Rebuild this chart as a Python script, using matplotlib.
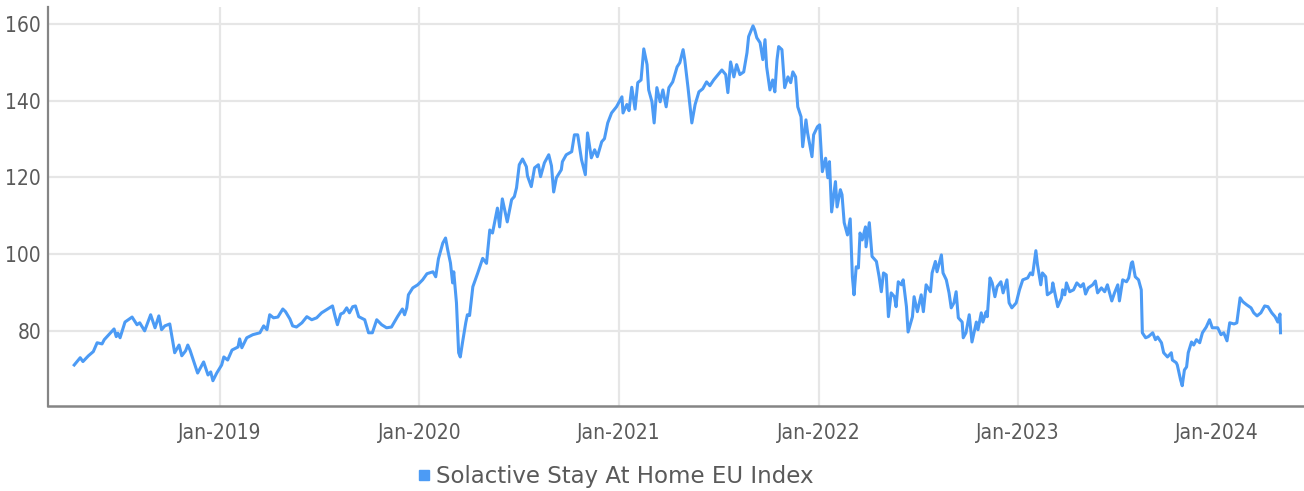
import matplotlib
matplotlib.use("Agg")
import matplotlib.pyplot as plt
import matplotlib.dates as mdates
import pandas as pd

# Solactive Stay At Home EU Index
dates = [
    "2018-04-09", "2018-04-20", "2018-04-25", "2018-05-05", "2018-05-14", "2018-05-21", "2018-05-30",
    "2018-06-03", "2018-06-14", "2018-06-21", "2018-06-25", "2018-06-28", "2018-07-02", "2018-07-11",
    "2018-07-24", "2018-08-02", "2018-08-07", "2018-08-16", "2018-08-27", "2018-09-04", "2018-09-11",
    "2018-09-16", "2018-09-22", "2018-10-01", "2018-10-10", "2018-10-18", "2018-10-23", "2018-10-30",
    "2018-11-03", "2018-11-07", "2018-11-21", "2018-12-02", "2018-12-10", "2018-12-15", "2018-12-19",
    "2018-12-26",
    "2019-01-04", "2019-01-08", "2019-01-15", "2019-01-23", "2019-02-03", "2019-02-06", "2019-02-10",
    "2019-02-19", "2019-03-02", "2019-03-15", "2019-03-22", "2019-03-28", "2019-04-02", "2019-04-09",
    "2019-04-17", "2019-04-26", "2019-05-01", "2019-05-09", "2019-05-14", "2019-05-21", "2019-05-31",
    "2019-06-09", "2019-06-18", "2019-06-27", "2019-07-06", "2019-07-15", "2019-07-26", "2019-07-30",
    "2019-08-04", "2019-08-10", "2019-08-15", "2019-08-21", "2019-08-26", "2019-09-01", "2019-09-06",
    "2019-09-12", "2019-09-23", "2019-09-30", "2019-10-07", "2019-10-15", "2019-10-24", "2019-11-02",
    "2019-11-11", "2019-11-22", "2019-12-01", "2019-12-05", "2019-12-09", "2019-12-12", "2019-12-20",
    "2019-12-29",
    "2020-01-07", "2020-01-15", "2020-01-26", "2020-01-31", "2020-02-05", "2020-02-13", "2020-02-18",
    "2020-02-22", "2020-02-27", "2020-03-02", "2020-03-04", "2020-03-09", "2020-03-13", "2020-03-16",
    "2020-03-20", "2020-03-26", "2020-03-29", "2020-04-02", "2020-04-08", "2020-04-17", "2020-04-26",
    "2020-05-03", "2020-05-09", "2020-05-14", "2020-05-23", "2020-05-27", "2020-06-01", "2020-06-10",
    "2020-06-18", "2020-06-23", "2020-06-27", "2020-07-02", "2020-07-08", "2020-07-15", "2020-07-17",
    "2020-07-24", "2020-07-30", "2020-08-06", "2020-08-10", "2020-08-17", "2020-08-25", "2020-08-30",
    "2020-09-03", "2020-09-08", "2020-09-17", "2020-09-19", "2020-09-26", "2020-10-06", "2020-10-11",
    "2020-10-17", "2020-10-24", "2020-10-31", "2020-11-04", "2020-11-11", "2020-11-17", "2020-11-22",
    "2020-11-30", "2020-12-05", "2020-12-11", "2020-12-18", "2020-12-27",
    "2021-01-06", "2021-01-08", "2021-01-15", "2021-01-19", "2021-01-24", "2021-01-30", "2021-02-04",
    "2021-02-10", "2021-02-15", "2021-02-21", "2021-02-24", "2021-03-02", "2021-03-06", "2021-03-11",
    "2021-03-17", "2021-03-22", "2021-03-28", "2021-04-02", "2021-04-09", "2021-04-17", "2021-04-22",
    "2021-04-28", "2021-05-01", "2021-05-07", "2021-05-14", "2021-05-20", "2021-05-27", "2021-06-03",
    "2021-06-10", "2021-06-16", "2021-06-23", "2021-07-01", "2021-07-08", "2021-07-15", "2021-07-19",
    "2021-07-24", "2021-07-30", "2021-08-04", "2021-08-10", "2021-08-17", "2021-08-23", "2021-08-26",
    "2021-09-03", "2021-09-06", "2021-09-10", "2021-09-16", "2021-09-21", "2021-09-25", "2021-09-28",
    "2021-10-04", "2021-10-09", "2021-10-13", "2021-10-17", "2021-10-20", "2021-10-26", "2021-10-31",
    "2021-11-06", "2021-11-11", "2021-11-15", "2021-11-20", "2021-11-24", "2021-11-30", "2021-12-03",
    "2021-12-09", "2021-12-12", "2021-12-20", "2021-12-23", "2021-12-30",
    "2022-01-03", "2022-01-08", "2022-01-14", "2022-01-18", "2022-01-21", "2022-01-25", "2022-02-01",
    "2022-02-04", "2022-02-10", "2022-02-13", "2022-02-17", "2022-02-23", "2022-02-28", "2022-03-04",
    "2022-03-07", "2022-03-11", "2022-03-15", "2022-03-18", "2022-03-22", "2022-03-28", "2022-03-29",
    "2022-04-04", "2022-04-09", "2022-04-17", "2022-04-22", "2022-04-26", "2022-04-30", "2022-05-05",
    "2022-05-09", "2022-05-14", "2022-05-20", "2022-05-23", "2022-05-27", "2022-06-02", "2022-06-05",
    "2022-06-11", "2022-06-14", "2022-06-22", "2022-06-25", "2022-07-01", "2022-07-08", "2022-07-12",
    "2022-07-17", "2022-07-25", "2022-07-28", "2022-08-03", "2022-08-06", "2022-08-14", "2022-08-17",
    "2022-08-23", "2022-08-28", "2022-09-01", "2022-09-06", "2022-09-10", "2022-09-14", "2022-09-21",
    "2022-09-23", "2022-09-28", "2022-10-04", "2022-10-09", "2022-10-17", "2022-10-20", "2022-10-26",
    "2022-10-29", "2022-11-04", "2022-11-06", "2022-11-11", "2022-11-15", "2022-11-20", "2022-11-24",
    "2022-12-01", "2022-12-05", "2022-12-12", "2022-12-16", "2022-12-21", "2022-12-29",
    "2023-01-04", "2023-01-10", "2023-01-19", "2023-01-24", "2023-01-28", "2023-02-03", "2023-02-06",
    "2023-02-12", "2023-02-15", "2023-02-21", "2023-02-24", "2023-03-04", "2023-03-06", "2023-03-13",
    "2023-03-15", "2023-03-22", "2023-03-24", "2023-03-28", "2023-03-31", "2023-04-06", "2023-04-13",
    "2023-04-19", "2023-04-26", "2023-05-01", "2023-05-05", "2023-05-10", "2023-05-18", "2023-05-23",
    "2023-05-27", "2023-06-03", "2023-06-09", "2023-06-14", "2023-06-22", "2023-06-27", "2023-07-03",
    "2023-07-06", "2023-07-12", "2023-07-19", "2023-07-23", "2023-07-28", "2023-07-30", "2023-08-04",
    "2023-08-10", "2023-08-15", "2023-08-17", "2023-08-23", "2023-08-28", "2023-09-05", "2023-09-10",
    "2023-09-14", "2023-09-21", "2023-09-25", "2023-10-02", "2023-10-09", "2023-10-11", "2023-10-18",
    "2023-10-20", "2023-10-26", "2023-10-29", "2023-11-02", "2023-11-06", "2023-11-09", "2023-11-15",
    "2023-11-19", "2023-11-24", "2023-11-30", "2023-12-05", "2023-12-12", "2023-12-18", "2023-12-23",
    "2024-01-02", "2024-01-08", "2024-01-13", "2024-01-19", "2024-01-24", "2024-02-01", "2024-02-06",
    "2024-02-12", "2024-02-17", "2024-02-24", "2024-03-03", "2024-03-08", "2024-03-14", "2024-03-21",
    "2024-03-28", "2024-04-03", "2024-04-10", "2024-04-16", "2024-04-21", "2024-04-25", "2024-04-26",
]
values = [
    71.1, 73.0, 72.0, 73.5, 74.6, 76.9, 76.6,
    77.7, 79.4, 80.5, 78.5, 79.4, 78.2, 82.3,
    83.6, 81.6, 82.1, 80.0, 84.2, 80.8, 83.9,
    80.3, 81.3, 81.8, 74.3, 76.3, 73.5, 74.8,
    76.3, 75.0, 69.0, 71.9, 68.5, 69.3, 67.0,
    69.0,
    71.1, 73.2, 72.4, 75.0, 75.8, 77.9, 75.6,
    78.2, 79.0, 79.5, 81.3, 80.3, 84.2, 83.4,
    83.6, 85.7, 85.0, 83.1, 81.3, 81.0, 82.1,
    83.7, 82.9, 83.4, 84.7, 85.5, 86.5, 84.2,
    81.6, 84.4, 84.7, 86.0, 84.7, 86.3, 86.5,
    83.7, 82.9, 79.5, 79.5, 82.9, 81.6, 80.8,
    81.0, 83.7, 85.7, 84.2, 86.0, 89.4, 91.2,
    92.0,
    93.3, 94.9, 95.4, 94.1, 98.8, 102.9, 104.2,
    101.1, 97.7, 92.5, 95.4, 87.3, 74.3, 73.2,
    76.9, 82.1, 84.2, 84.0, 91.5, 95.1, 98.9,
    97.6, 106.3, 105.5, 112.0, 107.1, 114.4, 108.4,
    114.2, 115.0, 117.3, 123.3, 124.8, 122.8, 120.4,
    117.6, 122.5, 123.3, 120.2, 123.8, 125.9, 123.0,
    116.2, 119.9, 122.0, 124.1, 125.9, 126.7, 131.1,
    131.1, 124.6, 120.7, 131.6, 125.1, 127.2, 125.4,
    129.3, 130.1, 134.2, 136.8, 138.4,
    141.0, 136.8, 139.0, 137.4, 143.5, 137.8, 144.7,
    145.4, 153.5, 149.4, 142.8, 139.7, 134.2, 143.4,
    139.7, 142.8, 138.4, 143.4, 144.9, 148.8, 149.9,
    153.3, 150.7, 143.4, 134.2, 139.0, 142.3, 143.1,
    144.9, 143.9, 145.4, 146.8, 148.0, 146.8, 142.1,
    150.1, 146.2, 149.4, 146.8, 147.5, 152.5, 156.7,
    159.5, 158.5, 156.4, 155.1, 150.7, 155.9, 148.8,
    142.8, 145.4, 142.3, 150.7, 154.1, 153.3, 143.4,
    146.2, 144.7, 147.5, 146.2, 138.4, 135.8, 128.0,
    135.0, 131.6, 125.4, 131.1, 133.2,
    133.7, 121.5, 125.0, 119.9, 124.1, 111.0, 118.9,
    112.3, 116.8, 115.5, 108.2, 105.0, 109.2, 94.1,
    89.4, 96.7, 96.4, 105.5, 103.7, 107.1, 101.9,
    108.2, 99.4, 98.1, 94.1, 90.2, 95.1, 94.6,
    83.7, 89.9, 88.9, 86.3, 92.8, 92.0, 93.3,
    86.3, 79.7, 83.7, 88.9, 85.0, 89.4, 85.0,
    92.0, 90.2, 95.1, 98.1, 95.4, 99.8, 95.1,
    93.3, 89.9, 86.0, 87.3, 90.2, 83.4, 82.3,
    78.2, 79.5, 84.2, 77.1, 82.3, 80.3, 84.7,
    82.3, 85.0, 83.7, 93.8, 92.5, 88.9, 91.5,
    92.8, 89.9, 93.3, 87.3, 86.0, 87.3,
    90.7, 93.3, 93.8, 95.1, 94.6, 100.9, 97.2,
    92.0, 95.1, 94.1, 89.4, 90.2, 92.5, 87.6,
    86.3, 88.6, 90.7, 89.4, 92.5, 90.2, 90.7,
    92.5, 91.5, 92.3, 89.6, 91.2, 92.0, 93.0,
    89.9, 91.2, 90.2, 92.0, 87.8, 89.9, 92.0,
    87.8, 93.3, 92.8, 93.8, 97.7, 98.0, 94.1,
    93.3, 90.7, 79.5, 78.2, 78.5, 79.5, 77.7,
    78.4, 76.9, 74.3, 73.2, 74.3, 72.4, 71.7,
    71.1, 67.2, 65.7, 69.8, 70.6, 74.3, 77.1,
    76.3, 77.7, 76.9, 79.5, 81.0, 82.9, 80.8,
    80.8, 79.0, 79.5, 77.4, 82.1, 81.8, 82.1,
    88.6, 87.6, 86.8, 86.0, 84.7, 83.9, 84.7,
    86.5, 86.3, 84.7, 83.7, 82.3, 84.4, 79.5,
]
series_name = "Solactive Stay At Home EU Index"
y_ticks = [80, 100, 120, 140, 160]

df = pd.DataFrame({"date": pd.to_datetime(dates), "value": values})

plt.rcParams['font.family'] = ['DejaVu Sans']
plt.rcParams['font.stretch'] = 'condensed'

fig = plt.figure(figsize=(13.04, 4.91), dpi=100)
ax = fig.add_axes([0.0368, 0.173, 0.9632, 0.8126])

line_color = '#4c9bf5'
ax.plot(df["date"], df["value"], color=line_color, lw=2.2, label=series_name)

ax.set_ylim(60.4, 164.4)
ax.set_xlim(pd.Timestamp("2018-02-20"), pd.Timestamp("2024-06-08"))
ax.set_yticks(y_ticks)
ax.xaxis.set_major_locator(mdates.YearLocator(month=1, day=1))
ax.xaxis.set_major_formatter(mdates.DateFormatter("%b-%Y"))

ax.grid(True, color='#e6e6e6', lw=1.6)
ax.set_axisbelow(True)
for s in ['top', 'right']:
    ax.spines[s].set_visible(False)
ax.spines['left'].set_color('#858585')
ax.spines['bottom'].set_color('#858585')
ax.spines['left'].set_linewidth(1.6)
ax.spines['bottom'].set_linewidth(1.8)
ax.tick_params(axis='both', length=0, labelsize=15, colors='#5a5a5a')
ax.tick_params(axis='x', pad=12)
ax.tick_params(axis='y', pad=5)

handle = plt.Line2D([], [], marker='s', ls='none', color=line_color, markersize=7)
fig.legend([handle], [series_name], loc='center', bbox_to_anchor=(0.471, 0.029),
           frameon=False, labelcolor='#5a5a5a', handletextpad=0.1, handlelength=0.8,
           prop={'family': 'DejaVu Sans', 'stretch': 'normal', 'size': 16.5})

fig.savefig("out.png", dpi=100)
